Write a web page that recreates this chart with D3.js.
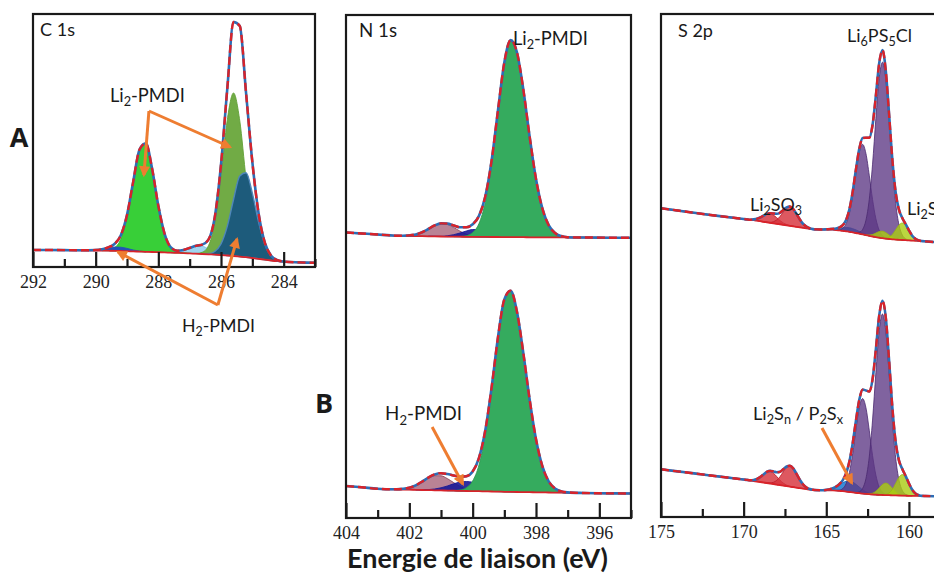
<!DOCTYPE html>
<html><head><meta charset="utf-8">
<script src="https://cdn.jsdelivr.net/npm/d3@7"></script>
<style>body{margin:0;background:#fff}svg{display:block}.tick text{font-family:'Liberation Serif','DejaVu Serif',serif !important}</style>
</head><body>
<script>
// ---------------- DATA ----------------
// Panel A : C 1s
const c1sEnergy = [292,291.5,291,290.5,290,289.8,289.6,289.4,289.2,289,288.8,288.6,288.4,288.2,288,287.8,287.6,287.4,287.2,287,286.8,286.6,286.4,286.2,286,285.8,285.6,285.4,285.2,285,284.8,284.6,284.4,284.2,284,283.5,283];
const c1sBackground = [17,17,16.9,16.7,16.5,16.4,16.3,16.2,16.0,15.8,15.6,15.4,15.2,15.0,14.8,14.6,14.3,14.1,13.9,13.6,13.3,13.0,12.7,12.4,12.0,11.5,11.0,10.4,9.8,9.0,8.2,7.3,6.5,5.8,5.3,4.6,4.2];
const c1sEnvelope = [17,17,16.9,16.7,17.0,17.8,19.6,23.0,31.5,52.0,85.6,117.5,123.6,98.5,61.2,33.2,19.6,16.3,17.0,19.1,21.2,22.4,27.4,49.6,102.3,178,245,241,174,105.1,53.5,24.2,11.3,6.8,5.5,4.6,4.2];
const c1sLi2CO = [0,0,0,0,0,0,0.5,3.0,11.7,33.4,68.6,101.6,108.4,83.5,46.4,18.6,5.3,1.1,0.2,0,0,0,0,0,0,0,0,0,0,0,0,0,0,0,0,0,0];
const c1sLi2CC = [0,0,0,0,0,0,0,0,0,0,0,0,0,0,0,0,0,0,0,0,0.2,1.7,8.6,31.2,78.2,135.6,163,135.6,78.2,31.2,8.6,1.7,0.2,0,0,0,0];
const c1sH2CC = [0,0,0,0,0,0,0,0,0,0,0,0,0,0,0,0,0,0,0,0,0,0,0.6,3.1,11.0,29.1,56.5,80.6,84.4,64.9,36.7,15.2,4.6,1.0,0.2,0,0];
const c1sCN = [0,0,0,0,0,0,0,0,0,0,0,0,0,0,0,0,0,1.1,2.9,5.5,7.7,7.7,5.5,2.9,1.1,0.3,0,0,0,0,0,0,0,0,0,0,0];
const c1sH2CO = [0,0,0,0,0.5,1.4,2.8,3.8,3.8,2.8,1.4,0.5,0,0,0,0,0,0,0,0,0,0,0,0,0,0,0,0,0,0,0,0,0,0,0,0,0];
const c1sMajorTicks = [292,290,288,286,284];
const c1sMinorTicks = [291,289,287,285,283];

// Panel B : N 1s (top = Li2-PMDI, bottom = H2-PMDI)
const n1sEnergy = [404,403.5,403,402.6,402.4,402.2,402,401.8,401.6,401.4,401.2,401,400.8,400.6,400.4,400.2,400,399.8,399.6,399.4,399.2,399,398.8,398.6,398.4,398.2,398,397.8,397.6,397.4,397.2,397,396.5,396,395.5,395];
const n1sTopBackground = [7.5,6.5,5.5,4.6,4.3,4.1,4.0,3.9,3.8,3.7,3.6,3.5,3.4,3.4,3.3,3.2,3.2,3.1,3.1,3.0,3.0,2.9,2.9,2.8,2.8,2.7,2.7,2.7,2.6,2.6,2.6,2.5,2.5,2.4,2.2,2.2];
const n1sTopEnvelope = [7.5,6.5,5.5,4.6,4.3,4.3,4.6,5.6,7.7,11.0,14.6,16.6,16.4,14.5,12.7,12.7,15.7,24.1,43.7,79.7,129.8,177.6,199.9,187.5,150.4,103.2,61.0,31.6,14.8,7.0,3.9,2.8,2.5,2.4,2.2,2.2];
const n1sTopMauve = [0,0,0,0,0,0.2,0.6,1.7,3.9,7.3,10.9,12.9,12.2,9.2,5.5,2.6,1.0,0.3,0.1,0,0,0,0,0,0,0,0,0,0,0,0,0,0,0,0,0];
const n1sTopBlue = [0,0,0,0,0,0,0,0,0,0,0.1,0.2,0.8,1.9,3.7,5.8,7.3,7.3,5.8,3.7,1.9,0.8,0.2,0.1,0,0,0,0,0,0,0,0,0,0,0,0];
const n1sTopGreen = [0,0,0,0,0,0,0,0,0,0,0,0,0,0,0.2,1.1,4.2,13.4,34.7,73.0,124.9,173.9,196.8,184.6,147.6,100.5,58.3,28.9,12.2,4.4,1.3,0.3,0,0,0,0];
const n1sBotBackground = [10,8.7,7.2,6.6,6.5,6.4,6.3,6.2,6.0,5.9,5.7,5.6,5.4,5.3,5.1,5.0,4.9,4.8,4.6,4.5,4.4,4.2,4.1,4.0,3.9,3.8,3.7,3.6,3.5,3.4,3.3,3.2,3.0,2.7,2.6,2.5];
const n1sBotEnvelope = [10,8.7,7.2,6.7,6.7,7.2,8.3,10.7,14.3,18.4,21.6,22.8,22.0,20.5,19.3,19.8,24.6,38.1,65.9,108.9,158.8,196.6,205.3,184.0,142.9,96.3,56.8,29.9,14.7,7.5,4.6,3.6,3.0,2.7,2.6,2.5];
const n1sBotMauve = [0,0,0,0.1,0.2,0.8,2.0,4.5,8.1,12.0,14.6,14.6,12.0,8.1,4.5,2.0,0.8,0.2,0.1,0,0,0,0,0,0,0,0,0,0,0,0,0,0,0,0,0];
const n1sBotBlue = [0,0,0,0,0,0,0,0,0.2,0.5,1.3,2.6,4.6,6.9,8.8,9.5,8.8,6.9,4.6,2.6,1.3,0.5,0.2,0,0,0,0,0,0,0,0,0,0,0,0,0];
const n1sBotGreen = [0,0,0,0,0,0,0,0,0,0,0,0,0,0.2,0.9,3.3,10.1,26.2,56.6,101.8,153.1,191.9,201.0,180.0,139.0,92.5,53.1,26.3,11.2,4.1,1.3,0.4,0,0,0,0];
const n1sMajorTicks = [404,402,400,398,396];
const n1sMinorTicks = [403,401,399,397,395];

// Panel B : S 2p
const s2pEnergy = [175,174,173,172,171,170.5,170,169.8,169.6,169.4,169.2,169.0,168.8,168.6,168.4,168.2,168.0,167.8,167.6,167.4,167.2,167.0,166.8,166.6,166.4,166.2,166.0,165.8,165.6,165.4,165.2,165.0,164.8,164.6,164.4,164.2,164.0,163.8,163.6,163.4,163.2,163.0,162.8,162.6,162.4,162.2,162.0,161.8,161.6,161.4,161.2,161.0,160.8,160.6,160.4,160.2,160.0,159.8,159.6,159.4,159.2,159.0,158.5,158,157];
const s2pSulfiteEnergy = [169.8,169.6,169.4,169.2,169.0,168.8,168.6,168.4,168.2,168.0,167.8,167.6,167.4,167.2,167.0,166.8,166.6,166.4,166.2,166.0,165.8,165.6];
const s2pSulfideEnergy = [165.0,164.8,164.6,164.4,164.2,164.0,163.8,163.6,163.4,163.2,163.0,162.8,162.6,162.4,162.2,162.0,161.8,161.6,161.4,161.2,161.0,160.8,160.6,160.4,160.2,160.0,159.8,159.6,159.4,159.2,159.0];
const s2pTopBackground = [36.7,34.5,32.2,30.0,28.0,27.0,26.0,25.5,25.0,24.8,24.3,23.8,23.2,22.7,22.2,21.7,21.2,20.7,20.2,19.7,19.2,18.7,18.2,17.7,17.2,16.7,16.2,15.7,15.6,15.5,15.5,15.5,15.5,15.3,15.0,14.6,14.2,13.7,13.2,12.6,12.0,11.3,10.6,9.9,9.2,8.5,7.9,7.3,6.8,6.3,6.0,5.7,5.4,5.2,5.0,4.8,4.6,4.4,4.2,4.0,3.8,3.6,3.0,2.5,2.0];
const s2pTopEnvelope = [36.7,34.5,32.2,30.0,28.0,27.0,26.0,25.6,25.3,25.6,26.2,27.5,29.3,31.1,31.7,31.5,31.2,32.2,34.9,37.7,38.5,36.0,31.0,25.5,21.1,18.3,16.7,15.9,15.6,15.5,15.5,15.7,15.9,16.1,16.6,17.5,19.9,25.0,35.7,53.3,76.0,96.4,107.0,107.3,107.3,120.0,149.1,181.5,195.0,174.1,130.7,84.9,52.3,35.1,27.0,21.0,14.7,9.3,6.1,4.5,3.9,3.6,3.0,2.5,2.0];
const s2pTopSO3a = [0.1,0.3,0.8,1.9,3.7,6.1,8.2,9.0,8.2,6.1,3.7,1.9,0.8,0.3,0.1,0,0,0,0,0,0,0];
const s2pTopSO3b = [0,0,0,0,0,0,0.2,0.5,1.6,3.9,7.8,12.8,17.2,19.0,17.2,12.8,7.8,3.9,1.6,0.5,0.2,0];
const s2pTopSn = [0.2,0.4,0.8,1.4,2.2,3.1,3.7,4.0,3.7,3.1,2.2,1.4,0.8,0.4,0.2,0.1,0,0,0,0,0,0,0,0,0,0,0,0,0,0,0];
const s2pTopPS12 = [0,0,0,0.2,0.7,2.6,7.6,18.5,37.0,60.6,81.5,90.0,81.5,60.6,37.0,18.5,7.6,2.6,0.7,0.2,0,0,0,0,0,0,0,0,0,0,0];
const s2pTopPS32 = [0,0,0,0,0,0,0,0,0,0.3,1.4,5.0,14.9,36.3,72.3,118.6,159.5,176.0,159.5,118.6,72.3,36.3,14.9,5.0,1.4,0.3,0,0,0,0,0];
const s2pTopLi2Sa = [0,0,0,0,0,0,0,0,0,0,0,0,0.2,0.8,2.0,4.0,6.1,7.0,6.1,4.0,2.0,0.8,0.2,0,0,0,0,0,0,0,0];
const s2pTopLi2Sb = [0,0,0,0,0,0,0,0,0,0,0,0,0,0,0,0,0,0.1,0.5,1.9,4.9,9.8,14.8,17.0,14.8,9.8,4.9,1.9,0.5,0.1,0];
const s2pBotBackground = [27.7,25.6,23.6,21.5,19.5,18.5,17.5,17.0,16.5,16.0,15.5,15.0,14.5,14.0,13.5,13.0,12.4,11.9,11.4,10.9,10.4,9.9,9.3,8.8,8.3,7.8,7.3,7.0,6.9,6.8,6.8,6.7,6.7,6.6,6.4,6.1,5.8,5.4,5.0,4.6,4.2,3.8,3.4,3.1,2.8,2.5,2.3,2.1,2.0,1.9,1.8,1.7,1.6,1.5,1.4,1.3,1.2,1.2,1.1,1.1,1.0,1.0,0.8,0.6,0.4];
const s2pBotEnvelope = [27.7,25.6,23.6,21.5,19.5,18.5,17.5,17.1,16.8,17.0,18.0,19.9,22.6,25.1,26.1,25.6,24.7,25.2,27.7,30.5,31.2,28.6,23.1,17.2,12.5,9.5,7.9,7.2,6.9,6.8,6.8,7.1,7.7,8.7,10.4,13.0,16.9,23.7,35.6,53.9,76.9,97.4,107.4,106.6,105.5,117.6,147.5,181.0,196.3,179.4,136.7,89.0,54.5,36.4,28.0,21.1,13.6,7.2,3.4,1.8,1.1,1.0,0.8,0.6,0.4];
const s2pBotSO3a = [0.1,0.3,1.0,2.5,4.9,8.1,10.9,12.0,10.9,8.1,4.9,2.5,1.0,0.3,0.1,0,0,0,0,0,0,0];
const s2pBotSO3b = [0,0,0,0,0,0,0.2,0.6,1.7,4.2,8.4,13.8,18.6,20.5,18.6,13.8,8.4,4.2,1.7,0.6,0.2,0];
const s2pBotSn = [0.4,1.0,2.1,3.8,6.1,8.4,10.3,11.0,10.3,8.4,6.1,3.8,2.1,1.0,0.4,0.2,0,0,0,0,0,0,0,0,0,0,0,0,0,0,0];
const s2pBotPS12 = [0,0,0,0.2,0.8,2.7,8.0,19.6,39.0,64.0,86.1,95.0,86.1,64.0,39.0,19.6,8.0,2.7,0.8,0.2,0,0,0,0,0,0,0,0,0,0,0];
const s2pBotPS32 = [0,0,0,0,0,0,0,0,0,0.3,1.4,5.2,15.3,37.3,74.4,121.9,164.0,181.0,164.0,121.9,74.4,37.3,15.3,5.2,1.4,0.3,0,0,0,0,0];
const s2pBotLi2Sa = [0,0,0,0,0,0,0,0,0,0,0,0,0,0.4,1.3,3.5,6.9,10.5,12.0,10.5,6.9,3.5,1.3,0.4,0.1,0,0,0,0,0,0];
const s2pBotLi2Sb = [0,0,0,0,0,0,0,0,0,0,0,0,0,0,0,0,0,0.1,0.7,2.3,6.0,12.1,18.3,21.0,18.3,12.1,6.0,2.3,0.7,0.1,0];
const s2pMajorTicks = [175,170,165,160];
const s2pMinorTicks = [172.5,167.5,162.5];

// Text labels (arrays mark subscripts)
const labelC1s = ["C 1s"], labelN1s = ["N 1s"], labelS2p = ["S 2p"];
const labelLi2PMDI = ["Li", ["2"], "-PMDI"];
const labelH2PMDI = ["H", ["2"], "-PMDI"];
const labelLi6PS5Cl = ["Li", ["6"], "PS", ["5"], "Cl"];
const labelLi2SO3 = ["Li", ["2"], "SO", ["3"]];
const labelLi2S = ["Li", ["2"], "S"];
const labelLi2Sn = ["Li", ["2"], "S", ["n"], " / P", ["2"], "S", ["x"]];
const axisTitle = "Energie de liaison (eV)";

// ---------------- DRAWING ----------------
const RED = "#d8232a", BLUE = "#2d6db5", ORANGE = "#ee7d31";
const SANS = "Lato, 'Open Sans', 'Liberation Sans', sans-serif";
const SERIF = "'Liberation Serif', 'DejaVu Serif', serif";

const svg = d3.select("body").append("svg").attr("width", 934).attr("height", 573);
const defs = svg.append("defs");
defs.append("marker").attr("id", "ah").attr("viewBox", "0 0 10 10").attr("refX", 8).attr("refY", 5)
  .attr("markerWidth", 12).attr("markerHeight", 11).attr("markerUnits", "userSpaceOnUse").attr("orient", "auto")
  .append("path").attr("d", "M0,0L10,5L0,10Z").attr("fill", ORANGE);

function frame(id, x0, y0, x1, y1) {
  defs.append("clipPath").attr("id", id).append("rect").attr("x", x0).attr("y", y0).attr("width", x1 - x0).attr("height", y1 - y0);
  return svg.append("g").attr("clip-path", `url(#${id})`);
}
function border(x0, y0, x1, y1) {
  svg.append("rect").attr("x", x0).attr("y", y0).attr("width", x1 - x0).attr("height", y1 - y0)
    .attr("fill", "none").attr("stroke", "#1a1a1a").attr("stroke-width", 2.2);
}
function axis(x, yPix, majors, minors) {
  const gM = svg.append("g").attr("transform", `translate(0,${yPix})`)
    .call(d3.axisBottom(x).tickValues(majors).tickSize(-15).tickPadding(8).tickFormat(d3.format("d")));
  const gm = svg.append("g").attr("transform", `translate(0,${yPix})`)
    .call(d3.axisBottom(x).tickValues(minors).tickSize(-8).tickFormat(""));
  [gM, gm].forEach(g => { g.select(".domain").remove(); g.selectAll("line").attr("stroke", "#1a1a1a").attr("stroke-width", 2.2); });
  gM.attr("font-family", SERIF).attr("font-size", 18);
  gM.selectAll("text").style("font-family", SERIF).style("font-size", "18px").attr("fill", "#222");
}
function rich(segs, x, y, size, opts = {}) {
  const t = svg.append("text").attr("x", x).attr("y", y).attr("font-family", opts.family || SANS)
    .attr("font-size", size).attr("font-weight", opts.weight || "normal").attr("fill", "#1a1a1a")
    .attr("text-anchor", opts.anchor || "start");
  let sub = false;
  segs.forEach(s => {
    if (Array.isArray(s)) {
      t.append("tspan").attr("font-size", "70%").attr("dy", sub ? null : "0.35em").text(s[0]);
      sub = true;
    } else {
      t.append("tspan").attr("dy", sub ? "-0.245em" : null).text(s);
      sub = false;
    }
  });
  if (opts.width) {
    const len = t.node().getComputedTextLength();
    if (len > 0) t.attr("font-size", size * opts.width / len);
  }
  return t;
}
function arrow(x1, y1, x2, y2) {
  svg.append("line").attr("x1", x1).attr("y1", y1).attr("x2", x2).attr("y2", y2)
    .attr("stroke", ORANGE).attr("stroke-width", 3).attr("marker-end", "url(#ah)");
}
function component(g, x, y, energies, values, bgAt, st) {
  const pts = [];
  values.forEach((v, i) => {
    if (v > 0 || (values[i - 1] || 0) > 0 || (values[i + 1] || 0) > 0) pts.push({ e: energies[i], v });
  });
  g.append("path").datum(pts)
    .attr("d", d3.area().x(d => x(d.e)).y0(d => y(bgAt(d.e))).y1(d => y(bgAt(d.e) + d.v)).curve(d3.curveMonotoneX))
    .attr("fill", st.fill).attr("fill-opacity", st.op == null ? 1 : st.op)
    .attr("stroke", st.stroke || "none").attr("stroke-width", st.sw || 0.9);
}
function spectrum(g, x, y, energies, bg, env) {
  const ln = d3.line().x(d => x(d.e)).y(d => y(d.v)).curve(d3.curveMonotoneX);
  const bgPts = energies.map((e, i) => ({ e, v: bg[i] }));
  const envPts = energies.map((e, i) => ({ e, v: env[i] }));
  g.append("path").attr("d", ln(bgPts)).attr("fill", "none").attr("stroke", RED).attr("stroke-width", 1.8);
  g.append("path").attr("d", ln(envPts)).attr("fill", "none").attr("stroke", BLUE).attr("stroke-width", 2.6);
  g.append("path").attr("d", ln(envPts)).attr("fill", "none").attr("stroke", RED).attr("stroke-width", 2.4)
    .attr("stroke-dasharray", "8 4");
}

// ----- Panel A : C 1s -----
const xA = d3.scaleLinear().domain([292, 283]).range([33, 315]);
const yA = d3.scaleLinear().domain([0, 253]).range([267, 14]);
const gA = frame("clipA", 33, 14, 315, 267);
const bgA = d3.scaleLinear().domain(c1sEnergy).range(c1sBackground);
component(gA, xA, yA, c1sEnergy, c1sCN, bgA, { fill: "#9fd5f0", stroke: "#7fbde0" });
component(gA, xA, yA, c1sEnergy, c1sLi2CC, bgA, { fill: "#71ab45", stroke: "#62a038" });
component(gA, xA, yA, c1sEnergy, c1sH2CC, bgA, { fill: "#1d5b7b", stroke: "#4f86ba", sw: 1.4 });
component(gA, xA, yA, c1sEnergy, c1sLi2CO, bgA, { fill: "#38cf38", stroke: "#2cb82c" });
component(gA, xA, yA, c1sEnergy, c1sH2CO, bgA, { fill: "#2350b8", stroke: "#2350b8" });
spectrum(gA, xA, yA, c1sEnergy, c1sBackground, c1sEnvelope);
border(33, 14, 315, 267);
axis(xA, 267, c1sMajorTicks, c1sMinorTicks);
rich(labelC1s, 40, 36, 17, { width: 35 });
rich(["A"], 19, 147, 27, { weight: "bold", anchor: "middle", family: "'Open Sans', Lato, sans-serif" });
rich(labelLi2PMDI, xA(288.35), yA(165), 18, { anchor: "middle", width: 75 });
arrow(xA(288.30), yA(156), xA(288.46), yA(92));
arrow(xA(288.30), yA(156), xA(285.71), yA(120));
rich(labelH2PMDI, xA(286.08), yA(-65), 18, { anchor: "middle", width: 73 });
arrow(xA(286.10), yA(-38), xA(289.29), yA(15));
arrow(xA(286.10), yA(-38), xA(285.49), yA(28));

// ----- Panel B : N 1s -----
const xN = d3.scaleLinear().domain([404, 395]).range([346, 631]);
const yNTop = d3.scaleLinear().domain([0, 200]).range([240, 40]);
const yNBot = d3.scaleLinear().domain([0, 200]).range([496, 296]);
const gN = frame("clipN", 346, 15, 631, 518);
const bgNT = d3.scaleLinear().domain(n1sEnergy).range(n1sTopBackground);
const bgNB = d3.scaleLinear().domain(n1sEnergy).range(n1sBotBackground);
component(gN, xN, yNTop, n1sEnergy, n1sTopMauve, bgNT, { fill: "#a8647a", op: 0.8, stroke: "#8c4a60" });
component(gN, xN, yNTop, n1sEnergy, n1sTopBlue, bgNT, { fill: "#1a1a96", op: 0.9, stroke: "#1a1a96" });
component(gN, xN, yNTop, n1sEnergy, n1sTopGreen, bgNT, { fill: "#35ab5e", stroke: "#2e9a52" });
spectrum(gN, xN, yNTop, n1sEnergy, n1sTopBackground, n1sTopEnvelope);
component(gN, xN, yNBot, n1sEnergy, n1sBotMauve, bgNB, { fill: "#a8647a", op: 0.8, stroke: "#8c4a60" });
component(gN, xN, yNBot, n1sEnergy, n1sBotBlue, bgNB, { fill: "#1a1a96", op: 0.9, stroke: "#1a1a96" });
component(gN, xN, yNBot, n1sEnergy, n1sBotGreen, bgNB, { fill: "#35ab5e", stroke: "#2e9a52" });
spectrum(gN, xN, yNBot, n1sEnergy, n1sBotBackground, n1sBotEnvelope);
border(346, 15, 631, 518);
axis(xN, 518, n1sMajorTicks, n1sMinorTicks);
rich(labelN1s, 359, 37, 17, { width: 38 });
rich(labelLi2PMDI, xN(398.73), yNTop(195), 18, { width: 75 });
rich(labelH2PMDI, xN(401.55), yNBot(76), 18, { anchor: "middle", width: 77 });
arrow(xN(401.28), yNBot(69), xN(400.31), yNBot(12));
rich(["B"], 324, 413, 27, { weight: "bold", anchor: "middle", family: "'Open Sans', Lato, sans-serif" });

// ----- Panel B : S 2p -----
const xS = d3.scaleLinear().domain([175, 157]).range([661, 958.5]);
const ySTop = d3.scaleLinear().domain([0, 200]).range([245, 45]);
const ySBot = d3.scaleLinear().domain([0, 200]).range([497, 297]);
const gS = frame("clipS", 661, 14, 960, 517);
const bgST = d3.scaleLinear().domain(s2pEnergy).range(s2pTopBackground);
const bgSB = d3.scaleLinear().domain(s2pEnergy).range(s2pBotBackground);
const stRed = { fill: "#d7333d", op: 0.82, stroke: "#c01f2b" };
const stBlue = { fill: "#2480d4", op: 0.9, stroke: "#1f70c0" };
const stPurple = { fill: "#5c3784", op: 0.78, stroke: "#4a2a70", sw: 0.8 };
const stYellow = { fill: "#aacc10", op: 0.8, stroke: "#98b810", sw: 0.8 };
[[ySTop, bgST, s2pTopSO3a, s2pTopSO3b, s2pTopSn, s2pTopPS12, s2pTopPS32, s2pTopLi2Sa, s2pTopLi2Sb, s2pTopBackground, s2pTopEnvelope],
 [ySBot, bgSB, s2pBotSO3a, s2pBotSO3b, s2pBotSn, s2pBotPS12, s2pBotPS32, s2pBotLi2Sa, s2pBotLi2Sb, s2pBotBackground, s2pBotEnvelope]]
.forEach(([y, bgS, a, b, sn, p1, p2, l1, l2, bg, env]) => {
  component(gS, xS, y, s2pSulfiteEnergy, a, bgS, stRed);
  component(gS, xS, y, s2pSulfiteEnergy, b, bgS, stRed);
  component(gS, xS, y, s2pSulfideEnergy, sn, bgS, stBlue);
  component(gS, xS, y, s2pSulfideEnergy, p1, bgS, stPurple);
  component(gS, xS, y, s2pSulfideEnergy, p2, bgS, stPurple);
  component(gS, xS, y, s2pSulfideEnergy, l1, bgS, stYellow);
  component(gS, xS, y, s2pSulfideEnergy, l2, bgS, stYellow);
  spectrum(gS, xS, y, s2pEnergy, bg, env);
});
border(661, 14, 990, 517);
axis(xS, 517, s2pMajorTicks, s2pMinorTicks);
rich(labelS2p, 678, 37, 17, { width: 35 });
rich(labelLi6PS5Cl, xS(161.78), ySTop(203), 18, { anchor: "middle", width: 65 });
rich(labelLi2SO3, xS(168.04), ySTop(34), 18, { anchor: "middle", width: 52 });
rich(labelLi2S, xS(160.12), ySTop(30), 18);
rich(labelLi2Sn, xS(166.71), ySBot(77), 18, { anchor: "middle", width: 90 });
arrow(xS(165.26), ySBot(69), xS(163.45), ySBot(14));

// Shared axis title
rich([axisTitle], 477.5, 568, 23, { anchor: "middle", weight: "bold", width: 261 });
</script>
</body></html>
